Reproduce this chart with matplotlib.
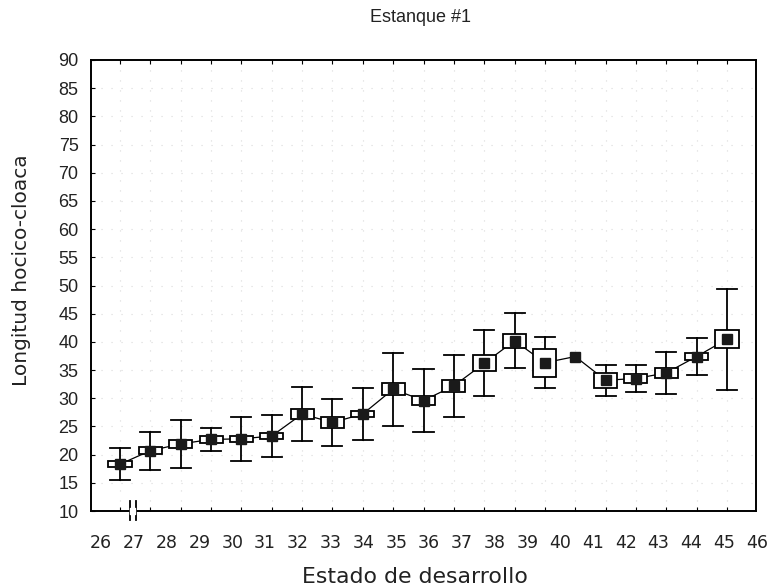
import matplotlib.pyplot as plt
import numpy as np
from matplotlib.patches import Rectangle

# Stages (x categories) and stats
stages = list(range(26, 47))
means = [18.3, 20.7, 21.9, 22.7, 22.8, 23.3, 27.2, 25.7, 27.2, 31.6, 29.6,
         32.2, 36.2, 40.2, 36.3, 37.4, 33.2, 33.5, 34.5, 37.4, 40.5]
se = [0.5, 0.6, 0.7, 0.6, 0.55, 0.53, 0.86, 0.9, 0.55, 1.07, 0.8,
      1.1, 1.4, 1.2, 2.5, 0.0, 1.3, 0.8, 0.85, 0.65, 1.6]
sd = [2.85, 3.35, 4.2, 2.1, 3.85, 3.7, 4.75, 4.25, 4.6, 6.5, 5.6,
      5.45, 5.85, 4.9, 4.5, 0.0, 2.75, 2.4, 3.7, 3.2, 8.95]
yticks = list(range(10, 95, 5))

fig = plt.figure(figsize=(7.69, 5.86), dpi=100)
ax = fig.add_axes([91 / 769, 1 - 511 / 586, 665 / 769, 451 / 586])

x = np.arange(len(stages))
means = np.array(means)
se = np.array(se)
sd = np.array(sd)

box_w = 0.76
cap_w = 0.66

# whiskers (mean +/- SD)
for xi, m, s in zip(x, means, sd):
    if s <= 0:
        continue
    ax.plot([xi, xi], [m - s, m + s], color="black", lw=1.3, zorder=2)
    ax.plot([xi - cap_w / 2, xi + cap_w / 2], [m + s, m + s], color="black", lw=1.3, zorder=2)
    ax.plot([xi - cap_w / 2, xi + cap_w / 2], [m - s, m - s], color="black", lw=1.3, zorder=2)

# line through the means
ax.plot(x, means, color="black", lw=0.9, zorder=3)

# boxes (mean +/- SE)
for xi, m, e in zip(x, means, se):
    if e <= 0:
        continue
    ax.add_patch(Rectangle((xi - box_w / 2, m - e), box_w, 2 * e,
                           facecolor="white", edgecolor="black", lw=1.3, zorder=4))

# mean markers
ax.plot(x, means, "s", color="#1a1a1a", ms=7.2, zorder=5)

ax.set_xlim(-0.955, 20.955)
ax.set_ylim(10, 90)
ax.set_yticks(yticks)
ax.set_xticks(x)
ax.set_xticklabels([])
ax.tick_params(axis="y", direction="in", length=3, pad=9, labelsize=13,
               labelcolor="#222222")
ax.tick_params(axis="x", direction="in", length=3, top=True, labelbottom=False)
for lbl in ax.get_yticklabels():
    lbl.set_family("Liberation Sans")

for sp in ax.spines.values():
    sp.set_linewidth(1.4)

# faint dotted grid
ax.grid(True, color="#dadada", linestyle=(0, (1, 8)), lw=0.8)
ax.set_axisbelow(True)

# axis break mark on the x axis
for bx in (0.33, 0.52):
    ax.plot([bx, bx], [-0.021, 0.022], color="black", lw=1.3,
            transform=ax.get_xaxis_transform(), clip_on=False, zorder=6)
ax.fill_between([0.345, 0.505], -0.006, 0.006, color="white",
                transform=ax.get_xaxis_transform(), clip_on=False, zorder=6)

# stage labels (spread as in the original figure)
for i, s in enumerate(stages):
    px = 101 + 32.8 * i
    ax.text((px - 91) / 665, -0.071, str(s), transform=ax.transAxes,
            ha="center", va="center", fontsize=12.5, family="DejaVu Sans",
            color="#222222")

fig.text(420 / 769, 1 - 18 / 586, "Estanque #1", ha="center", va="center",
         fontsize=13, family="Liberation Sans", color="#222222")
fig.text(415 / 769, 1 - 577 / 586, "Estado de desarrollo", ha="center", va="center",
         fontsize=15.8, family="DejaVu Sans", color="#222222")
fig.text(22 / 769, 1 - 270 / 586, "Longitud hocico-cloaca", ha="center", va="center",
         rotation=90, fontsize=14.5, family="DejaVu Sans", color="#222222")

fig.savefig("out.png", dpi=100)
